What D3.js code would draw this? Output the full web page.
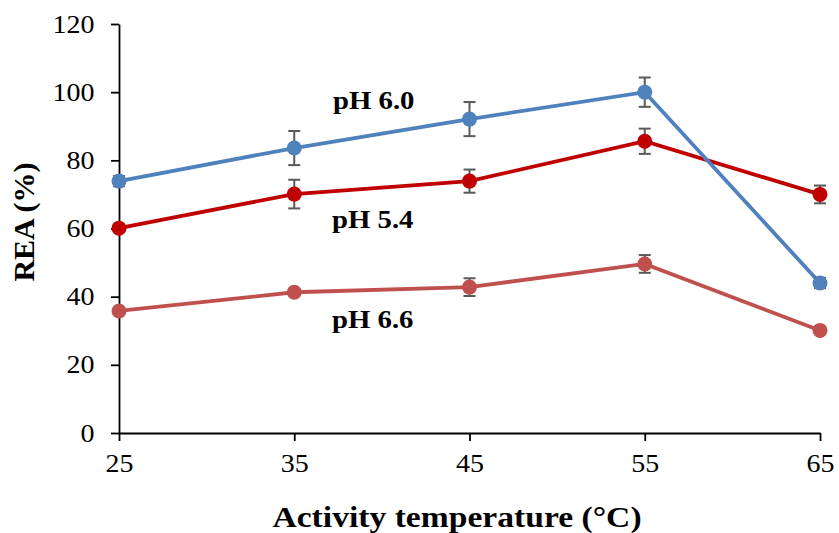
<!DOCTYPE html>
<html>
<head>
<meta charset="utf-8">
<script src="https://cdn.jsdelivr.net/npm/d3@7"></script>
<style>
  body { margin: 0; background: #fff; }
</style>
</head>
<body>
<svg id="chart" width="839" height="533"></svg>
<script>
var temps = [25, 35, 45, 55, 65];
var yTicks = [0, 20, 40, 60, 80, 100, 120];

var ph60 = [73.9, 83.6, 92.1, 100, 44.0];
var ph60Err = [1.5, 5.0, 5.0, 4.3, 1.5];
var ph54 = [60.1, 70.1, 73.9, 85.6, 70.0];
var ph54Err = [0.5, 4.2, 3.4, 3.7, 2.6];
var ph66 = [35.8, 41.3, 42.8, 49.6, 30.1];
var ph66Err = [0.5, 1.0, 2.6, 2.6, 0.5];

var serif = '"Liberation Serif", "Times New Roman", serif';

var series = [
    { name: 'pH 6.6', values: ph66, err: ph66Err, color: '#C0504D', lx: 332, ly: 30.8 },
    { name: 'pH 5.4', values: ph54, err: ph54Err, color: '#C00000', lx: 332, ly: 60.2 },
    { name: 'pH 6.0', values: ph60, err: ph60Err, color: '#4F81BD', lx: 333, ly: 95.2 }
];

var svg = d3.select('#chart');

var x = d3.scaleLinear().domain([25, 65]).range([119, 820]);
var y = d3.scaleLinear().domain([0, 120]).range([433, 24]);

// axes
var xAxis = svg.append('g')
    .attr('transform', 'translate(0,' + y(0) + ')')
    .call(d3.axisBottom(x).tickValues(temps).tickSize(8).tickPadding(10).tickSizeOuter(0));
var yAxis = svg.append('g')
    .attr('transform', 'translate(' + x(25) + ',0)')
    .call(d3.axisLeft(y).tickValues(yTicks).tickSize(8).tickPadding(8).tickSizeOuter(0));

[xAxis, yAxis].forEach(function(a) {
    a.selectAll('path, line').attr('stroke', '#000').attr('stroke-width', 1.8);
    a.selectAll('text')
        .style('font-family', serif)
        .style('font-size', '25px')
        .attr('fill', '#000');
});
// slightly wider glyphs, like the original
xAxis.selectAll('.tick text').attr('transform', 'scale(1.12,1)').attr('dy', '0.85em');
yAxis.selectAll('.tick text').attr('transform', 'scale(1.12,1)').attr('x', -22);

var line = d3.line()
    .x(function(d, i) { return x(temps[i]); })
    .y(function(d) { return y(d); });

series.forEach(function(s) {
    var g = svg.append('g');

    g.append('path')
        .datum(s.values)
        .attr('d', line)
        .attr('fill', 'none')
        .attr('stroke', s.color)
        .attr('stroke-width', 3.8);

    // error bars
    var eb = g.selectAll('g.err')
        .data(s.values)
        .enter()
        .append('g')
        .attr('class', 'err');
    eb.append('line')
        .attr('x1', function(d, i) { return x(temps[i]); })
        .attr('x2', function(d, i) { return x(temps[i]); })
        .attr('y1', function(d, i) { return y(d + s.err[i]); })
        .attr('y2', function(d, i) { return y(d - s.err[i]); })
        .attr('stroke', '#595959')
        .attr('stroke-width', 2);
    [1, -1].forEach(function(sign) {
        eb.append('line')
            .attr('x1', function(d, i) { return x(temps[i]) - 6; })
            .attr('x2', function(d, i) { return x(temps[i]) + 6; })
            .attr('y1', function(d, i) { return y(d + sign * s.err[i]); })
            .attr('y2', function(d, i) { return y(d + sign * s.err[i]); })
            .attr('stroke', '#595959')
            .attr('stroke-width', 2);
    });

    g.selectAll('circle')
        .data(s.values)
        .enter()
        .append('circle')
        .attr('cx', function(d, i) { return x(temps[i]); })
        .attr('cy', function(d) { return y(d); })
        .attr('r', 7.5)
        .attr('fill', s.color);

    svg.append('text')
        .attr('transform', 'translate(' + s.lx + ',' + y(s.ly) + ') scale(1.15,1)')
        .style('font-family', serif)
        .style('font-weight', 'bold')
        .style('font-size', '25px')
        .text(s.name);
});

// axis titles
svg.append('text')
    .attr('transform', 'translate(457,527) scale(1.12,1)')
    .attr('text-anchor', 'middle')
    .style('font-family', serif)
    .style('font-weight', 'bold')
    .style('font-size', '30px')
    .text('Activity temperature (°C)');

svg.append('text')
    .attr('transform', 'translate(34,222) rotate(-90)')
    .attr('text-anchor', 'middle')
    .style('font-family', serif)
    .style('font-weight', 'bold')
    .style('font-size', '30px')
    .text('REA (%)');
</script>
</body>
</html>
